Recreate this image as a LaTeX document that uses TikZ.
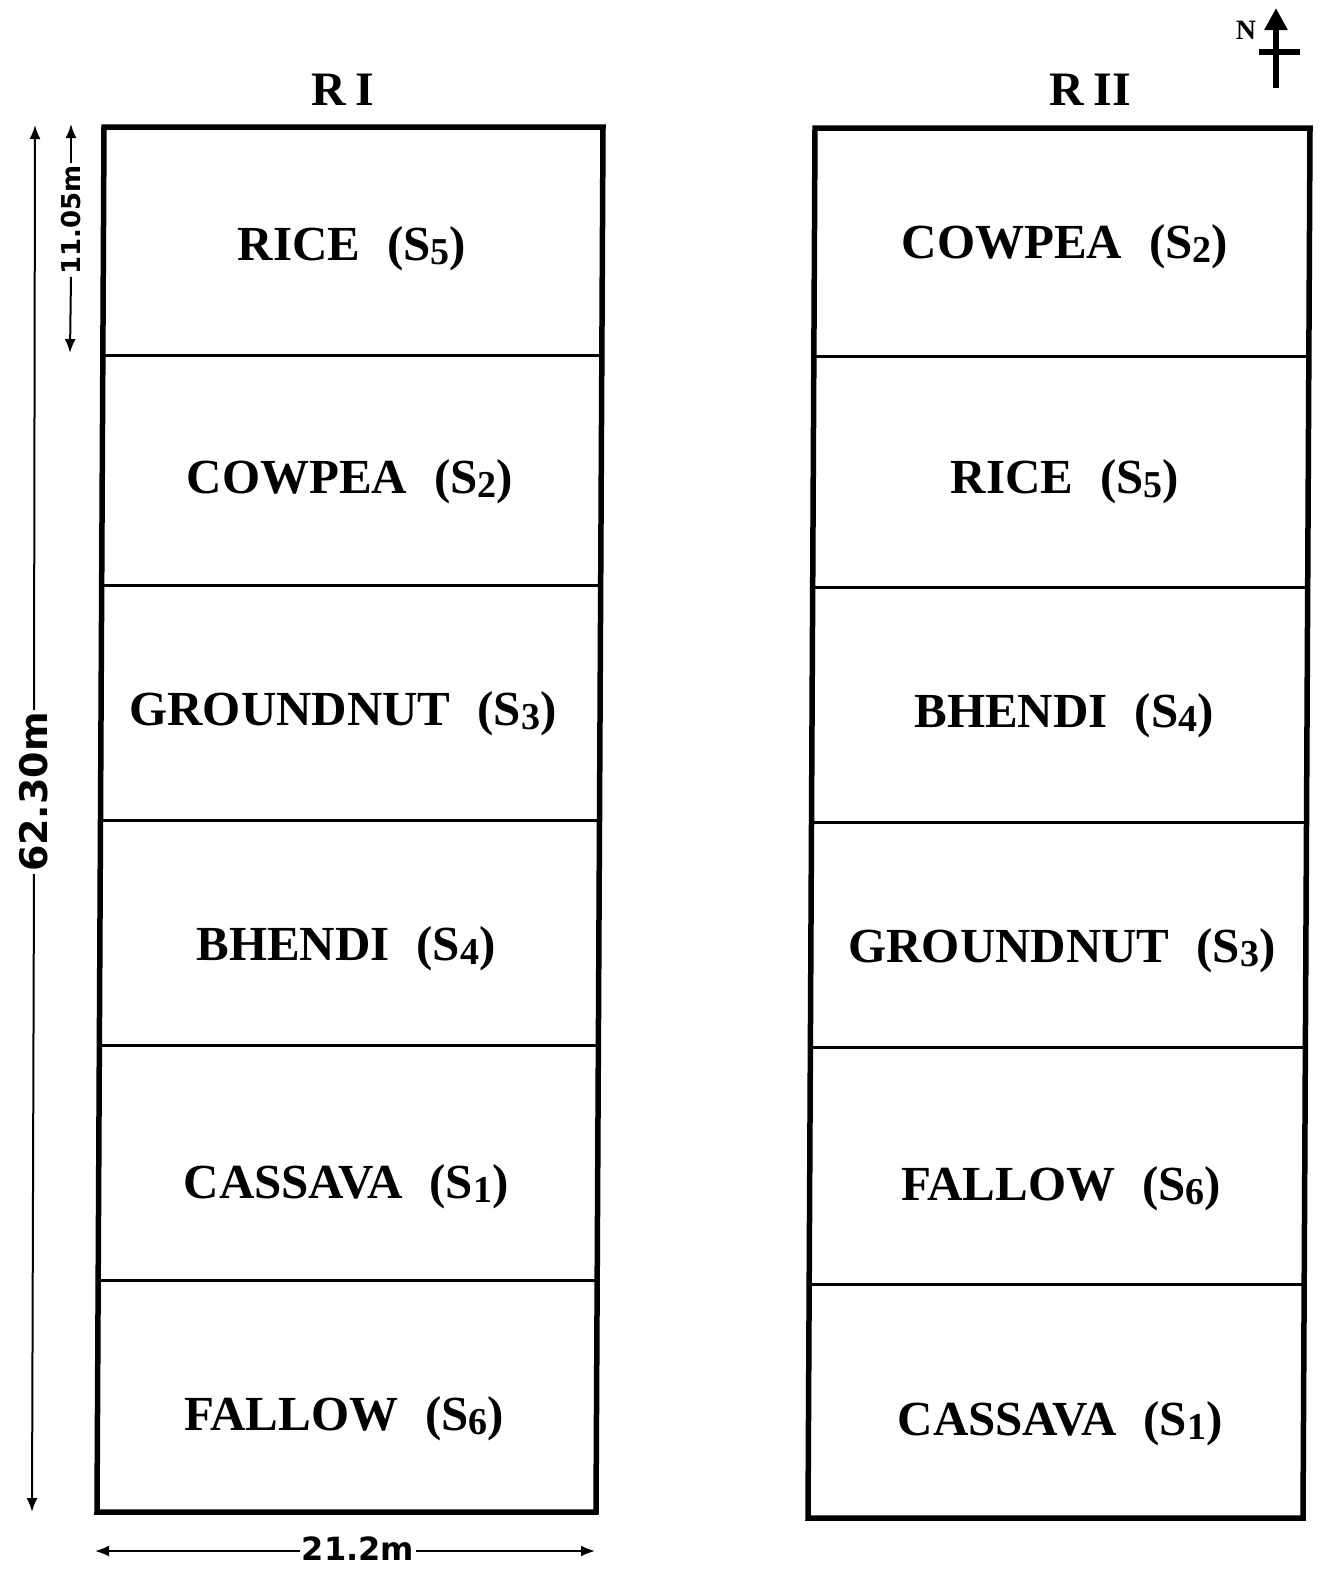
\documentclass[tikz,border=0pt]{standalone}
\usepackage{fontspec}
\setmainfont{Liberation Serif}
\newfontfamily\handfont{DejaVu Sans}
\usetikzlibrary{arrows.meta}
\newcommand{\sub}[1]{\raisebox{-4pt}{\fontsize{38}{38}\selectfont #1}}
\newcommand{\crop}[2]{#1\hspace{0.55em}(S\sub{#2})}
\tikzset{
  plotline/.style={line width=5.5pt, line join=miter},
  divline/.style={line width=3pt},
  croplabel/.style={font=\fontsize{49}{49}\selectfont\bfseries, inner sep=0pt, yshift=-4pt},
  replabel/.style={font=\fontsize{48}{48}\selectfont\bfseries, inner sep=0pt},
  dimline/.style={line width=2pt, -{Latex[length=14pt,width=11pt]}},
  dimlabel/.style={font=\handfont\bfseries\fontsize{38}{38}\selectfont, inner sep=2pt, fill=white},
}
\begin{document}
\begin{tikzpicture}[x=1pt,y=-1pt]
\useasboundingbox (0,0) rectangle (1324,1574);
% left replicate
\coordinate (LTL) at (104,127); \coordinate (LTR) at (603,127);
\coordinate (LBR) at (596,1512); \coordinate (LBL) at (97,1512);
\draw[plotline] (LTL) -- (LTR) -- (LBR) -- (LBL) -- cycle;
\foreach \yy in {355,585,820,1045,1280}{
  \draw[divline] ({104-7*(\yy-127)/1385},\yy) -- ({603-7*(\yy-127)/1385},\yy);
}
% right replicate
\coordinate (RTL) at (815,128); \coordinate (RTR) at (1310,128);
\coordinate (RBR) at (1303,1518); \coordinate (RBL) at (808,1518);
\draw[plotline] (RTL) -- (RTR) -- (RBR) -- (RBL) -- cycle;
\foreach \yy in {356,587,822,1047,1284}{
  \draw[divline] ({815-7*(\yy-128)/1390},\yy) -- ({1310-7*(\yy-128)/1390},\yy);
}
% titles
\node[replabel] (r1) at (343,90) {R\hspace{0.2em}I};
\node[replabel] (r2) at (1090,90) {R\hspace{0.2em}II};
% left labels
\node[croplabel] (l1) at (352,245) {\crop{RICE}{5}};
\node[croplabel] (l2) at (350,478) {\crop{COWPEA}{2}};
\node[croplabel] (l3) at (343,710) {\crop{GROUNDNUT}{3}};
\node[croplabel] (l4) at (346,945) {\crop{BHENDI}{4}};
\node[croplabel] (l5) at (346,1183) {\crop{CASSAVA}{1}};
\node[croplabel] (l6) at (344,1415) {\crop{FALLOW}{6}};
% right labels
\node[croplabel] (m1) at (1065,243) {\crop{COWPEA}{2}};
\node[croplabel] (m2) at (1065,478) {\crop{RICE}{5}};
\node[croplabel] (m3) at (1064,712) {\crop{BHENDI}{4}};
\node[croplabel] (m4) at (1062,947) {\crop{GROUNDNUT}{3}};
\node[croplabel] (m5) at (1061,1185) {\crop{FALLOW}{6}};
\node[croplabel] (m6) at (1060,1420) {\crop{CASSAVA}{1}};
% dimension: total length
\coordinate (d1a) at (35,125); \coordinate (d1b) at (32,1512);
\node[dimlabel, rotate=90] (d1) at (34,792) {62.30m};
\draw[dimline] (d1.east) -- (d1a);
\draw[dimline] (d1.west) -- (d1b);
% dimension: plot length
\coordinate (d2a) at (71,124); \coordinate (d2b) at (70,353);
\node[dimlabel, rotate=90, font=\handfont\bfseries\fontsize{26}{26}\selectfont] (d2) at (71,220) {11.05m};
\draw[dimline] (d2.east) -- (d2a);
\draw[dimline] (d2.west) -- (d2b);
% dimension: width
\coordinate (d3a) at (95,1551); \coordinate (d3b) at (595,1551);
\node[dimlabel, font=\handfont\bfseries\fontsize{32}{32}\selectfont] (d3) at (358,1549) {21.2m};
\draw[dimline] (d3.west |- d3a) -- (d3a);
\draw[dimline] (d3.east |- d3b) -- (d3b);
% north arrow
\coordinate (na) at (1276,88); \coordinate (nb) at (1276,8);
\draw[line width=6pt, -{Triangle[length=22pt,width=22pt]}] (na) -- (nb);
\coordinate (nc) at (1259,52); \coordinate (nd) at (1300,52);
\draw[line width=6pt] (nc) -- (nd);
\node[font=\fontsize{28}{28}\selectfont\bfseries, inner sep=0pt] (N) at (1246,30) {N};
\end{tikzpicture}
\end{document}
